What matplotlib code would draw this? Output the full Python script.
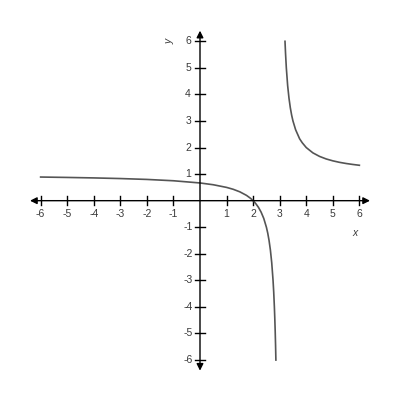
import matplotlib
matplotlib.use("Agg")
import matplotlib.pyplot as plt

plt.rcParams["font.family"] = ["Liberation Sans", "DejaVu Sans"]

# values
left_x = [-6, -5, -4, -3, -2, -1, 0, 0.5, 1, 1.25, 1.5, 1.75, 1.9, 2, 2.1, 2.2, 2.3, 2.4,
          2.5, 2.55, 2.6, 2.65, 2.7, 2.75, 2.775, 2.8, 2.815, 2.83, 2.845, 2.857]
left_y = [0.89, 0.875, 0.857, 0.833, 0.8, 0.75, 0.667, 0.6, 0.5, 0.429, 0.333, 0.2, 0.091, 0,
          -0.111, -0.25, -0.43, -0.667, -1.0, -1.22, -1.5, -1.857, -2.333, -3.0, -3.44, -4.0,
          -4.41, -4.88, -5.45, -6.0]
right_x = [3.2, 3.22, 3.25, 3.3, 3.35, 3.4, 3.45, 3.5, 3.6, 3.75, 3.85, 4, 4.25, 4.5, 4.75,
           5, 5.25, 5.5, 5.75, 6]
right_y = [6.0, 5.55, 5.0, 4.33, 3.86, 3.5, 3.22, 3.0, 2.67, 2.33, 2.18, 2.0, 1.8, 1.667,
           1.571, 1.5, 1.444, 1.4, 1.364, 1.333]

ticks = [-6, -5, -4, -3, -2, -1, 1, 2, 3, 4, 5, 6]

fig = plt.figure(figsize=(4, 4), dpi=100)
ax = fig.add_axes([0.075, 0.0733, 0.85, 0.85])
lim = 6.4
ax.set_xlim(-lim, lim)
ax.set_ylim(-lim, lim)
ax.axis("off")

# axes with arrows
ax.annotate("", xy=(lim, 0), xytext=(-lim, 0),
            arrowprops=dict(arrowstyle="<|-|>", color="black", lw=1, mutation_scale=10,
                            shrinkA=0, shrinkB=0))
ax.annotate("", xy=(0, lim), xytext=(0, -lim),
            arrowprops=dict(arrowstyle="<|-|>", color="black", lw=1, mutation_scale=10,
                            shrinkA=0, shrinkB=0))

tl = 0.18
for t in ticks:
    ax.plot([t, t], [-tl, tl], color="black", lw=1)
    ax.plot([-tl, tl], [t, t], color="black", lw=1)
    ax.text(t, -0.5, str(t), ha="center", va="center", fontsize=7.5, color="#3a3a3a")
    ax.text(-0.45, t, str(t), ha="center", va="center", fontsize=7.5, color="#3a3a3a")

ax.text(5.85, -1.2, "x", ha="center", va="center", fontsize=7.5, style="italic", color="#3a3a3a")
ax.text(-1.15, 6.0, "y", ha="center", va="center", fontsize=7.5, style="italic",
        color="#3a3a3a", rotation=90)

ax.plot(left_x, left_y, color="#555555", lw=1.2)
ax.plot(right_x, right_y, color="#555555", lw=1.2)

fig.savefig("out.png", dpi=100, facecolor="white")
